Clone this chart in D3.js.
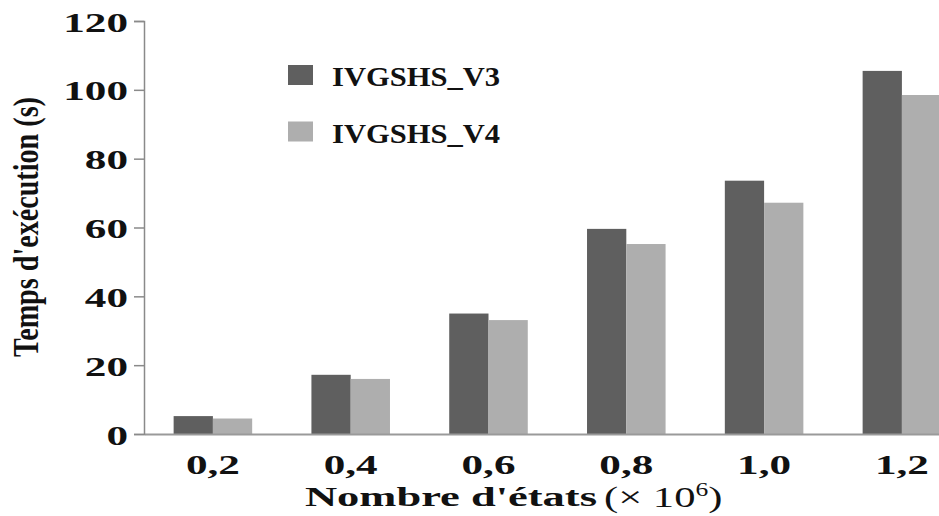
<!DOCTYPE html>
<html>
<head>
<meta charset="utf-8">
<script src="https://cdn.jsdelivr.net/npm/d3@7"></script>
<style>
  html, body { margin: 0; padding: 0; background: #fff; }
  svg { display: block; }
  text { font-family: "Liberation Serif", "Times New Roman", serif; fill: #111; }
</style>
</head>
<body>
<svg id="chart" width="939" height="516"></svg>
<script>
// Execution time (s) versus number of states (x 10^6)
const categories = ["0,2", "0,4", "0,6", "0,8", "1,0", "1,2"];
const seriesNames = ["IVGSHS_V3", "IVGSHS_V4"];
const valuesV3 = [5.2, 17.2, 35.0, 59.6, 73.6, 105.5];
const valuesV4 = [4.5, 16.0, 33.1, 55.2, 67.2, 98.5];
const yTicks = [0, 20, 40, 60, 80, 100, 120];
const colors = ["#5f5f5f", "#aeaeae"];

const svg = d3.select("#chart");
const left = 144, baseY = 434, topY = 21;
const serif = "'Liberation Serif', 'Times New Roman', serif";

const x = d3.scaleBand()
  .domain(categories)
  .range([left, left + 6 * 137.8])
  .paddingInner(0.43)
  .paddingOuter(0.215);

const xs = d3.scaleBand().domain(seriesNames).range([0, x.bandwidth()]);

const y = d3.scaleLinear().domain([0, 120]).range([baseY, topY]);

const rows = categories.map((c, i) => ({ cat: c, vals: [valuesV3[i], valuesV4[i]] }));

// bars
const groups = svg.append("g").selectAll("g").data(rows).join("g")
  .attr("transform", d => `translate(${x(d.cat)},0)`);
groups.selectAll("rect")
  .data(d => d.vals.map((v, j) => ({ name: seriesNames[j], v, j })))
  .join("rect")
  .attr("x", d => xs(d.name))
  .attr("width", xs.bandwidth())
  .attr("y", d => y(d.v))
  .attr("height", d => baseY - y(d.v))
  .attr("fill", d => colors[d.j]);

// x axis (baseline + category labels)
const xAxis = svg.append("g")
  .attr("transform", `translate(0,${baseY})`)
  .call(d3.axisBottom(x).tickSize(0).tickSizeOuter(0));
xAxis.select(".domain").attr("stroke", "#9a9a9a").attr("stroke-width", 2);
xAxis.selectAll(".tick text")
  .attr("dy", null)
  .attr("y", 40)
  .attr("transform", "scale(1.6,1)")
  .style("font-size", "27px")
  .style("font-weight", "bold")
  .style("font-family", serif)
  .attr("fill", "#111");

// y axis
const yAxis = svg.append("g")
  .attr("transform", `translate(${left},0)`)
  .call(d3.axisLeft(y).tickValues(yTicks).tickSize(10));
yAxis.select(".domain").attr("stroke", "#8a8a8a").attr("stroke-width", 1.5);
yAxis.selectAll(".tick line").attr("stroke", "#8a8a8a").attr("stroke-width", 1.5);
yAxis.selectAll(".tick text")
  .attr("dy", null)
  .attr("x", 0)
  .attr("y", 10)
  .attr("text-anchor", "end")
  .attr("transform", "translate(-16,0) scale(1.6,1)")
  .style("font-size", "27px")
  .style("font-weight", "bold")
  .style("font-family", serif)
  .attr("fill", "#111");

// y axis title
svg.append("text")
  .attr("transform", "translate(38,227) scale(1.3,1) rotate(-90)")
  .attr("text-anchor", "middle")
  .attr("textLength", 260)
  .attr("lengthAdjust", "spacingAndGlyphs")
  .style("font-size", "27px")
  .style("font-weight", "bold")
  .text("Temps d'exécution (s)");

// x axis title
svg.append("g").attr("transform", "translate(305,506)")
  .append("text")
  .attr("textLength", 292)
  .attr("lengthAdjust", "spacingAndGlyphs")
  .style("font-size", "28px")
  .style("font-weight", "bold")
  .text("Nombre d'états");
const unit = svg.append("g").attr("transform", "translate(604,507) scale(1.42,1)")
  .append("text")
  .style("font-size", "30px");
unit.append("tspan").text("(× 10");
unit.append("tspan").attr("dy", -11).style("font-size", "18px").text("6");
unit.append("tspan").attr("dy", 11).text(")");

// legend
const legend = svg.append("g").selectAll("g").data(seriesNames).join("g")
  .attr("transform", (d, i) => `translate(288,${65 + i * 56.5})`);
legend.append("rect")
  .attr("width", 25).attr("height", 20)
  .attr("fill", (d, i) => colors[i]);
legend.append("text")
  .attr("x", 44).attr("y", 21)
  .attr("textLength", 168)
  .attr("lengthAdjust", "spacingAndGlyphs")
  .style("font-size", "28px")
  .style("font-weight", "bold")
  .text(d => d);
</script>
</body>
</html>
